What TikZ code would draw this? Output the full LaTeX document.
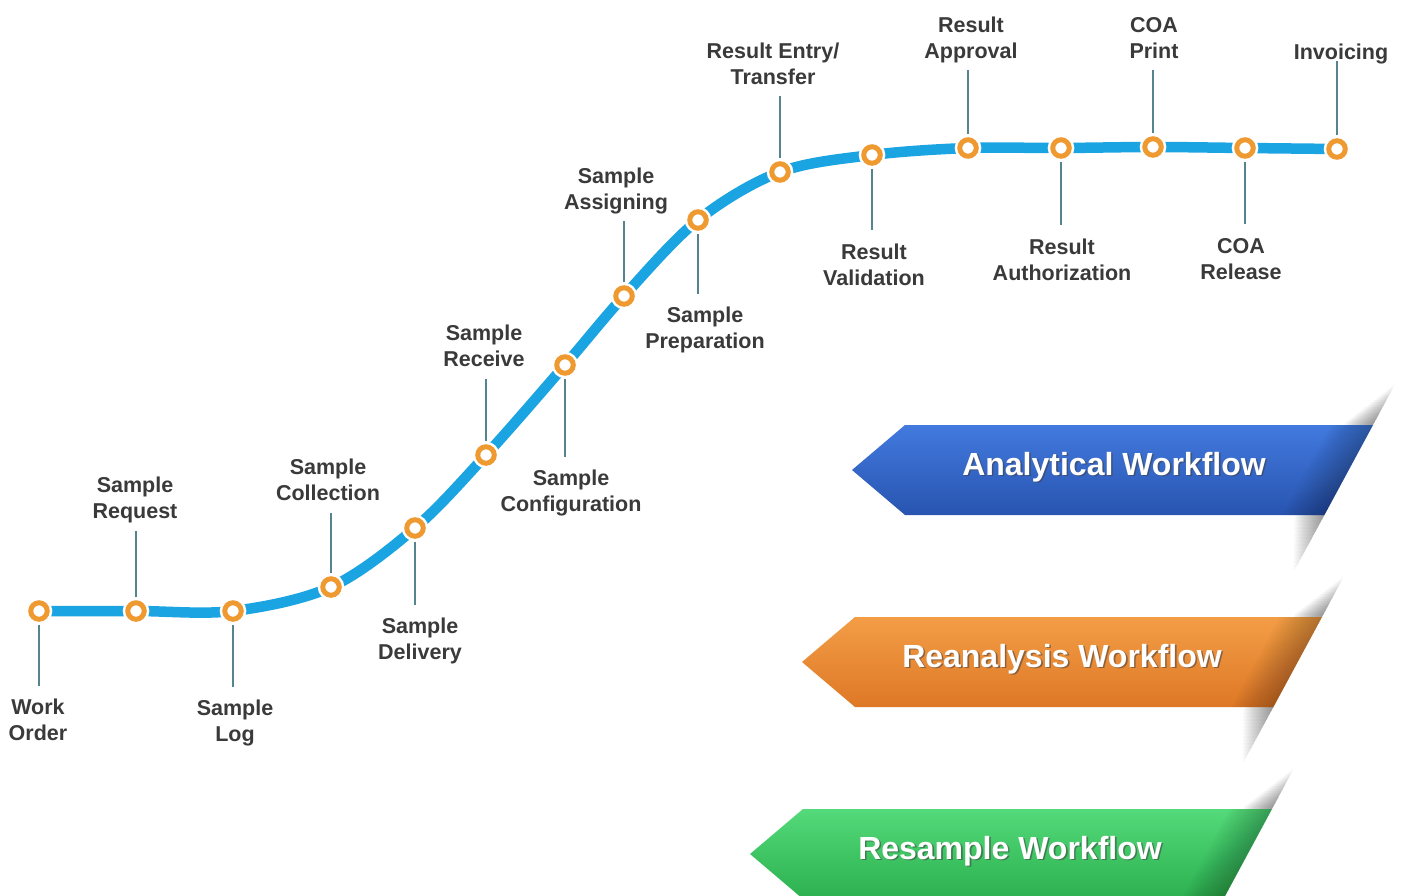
\documentclass[tikz,border=0pt]{standalone}
\usepackage{fontspec}
\setmainfont{Liberation Sans}
\usetikzlibrary{calc}
\definecolor{flowblue}{RGB}{27,164,226}
\definecolor{dotorange}{RGB}{238,154,48}
\definecolor{tickcol}{RGB}{84,132,142}
\definecolor{labcol}{RGB}{58,58,58}
\definecolor{blueT}{RGB}{66,122,222}
\definecolor{blueB}{RGB}{40,84,176}
\definecolor{orT}{RGB}{243,157,70}
\definecolor{orB}{RGB}{222,120,38}
\definecolor{grT}{RGB}{84,218,122}
\definecolor{grB}{RGB}{44,176,80}
\newcommand\twol[2]{\strut#1\\\strut#2}
% #1 top y, #2 top-right x, #3 tip x, #4 top colour, #5 bottom colour, #6 text, #7 text x, #8 name
\newcommand\wfbanner[8]{%
  \foreach \k in {1,...,16}{%
    \pgfmathsetmacro\ya{#1-42+2.4*\k}%
    \pgfmathsetmacro\xa{#2-0.54*(\ya-(#1))}%
    \fill[black,opacity=0.028] (\xa,\ya) -- (#2,#1) -- (#2-1.8*\k,#1) -- (\xa-1.8*\k,\ya) -- cycle;
    \pgfmathsetmacro\yb{#1+90+58-3.4*\k}%
    \pgfmathsetmacro\xb{#2-0.54*(\yb-(#1))}%
    \fill[black,opacity=0.028] (#2-48.6,#1+90) -- (\xb,\yb) -- (\xb-1.8*\k,\yb) -- (#2-48.6-1.8*\k,#1+90) -- cycle;
  }%
  \shade[top color=#4,bottom color=#5] (#3,#1+45) -- (#3+53,#1) -- (#2,#1) -- (#2-48.6,#1+90) -- (#3+53,#1+90) -- cycle;
  \foreach \k in {1,...,14}{%
    \fill[black,opacity=0.018] (#2,#1) -- (#2-48.6,#1+90) -- (#2-48.6-3*\k,#1+90) -- (#2-3*\k,#1) -- cycle;
  }%
  \node[bantext,text=black!75,opacity=0.55] (#8s) at (#7+1.6,#1+43.6) {#6};
  \node[bantext,text=white] (#8) at (#7,#1+42) {#6};
}
\begin{document}
\begin{tikzpicture}[x=1pt,y=-1pt,
  flow/.style={draw=flowblue,line width=10.5pt},
  dot/.style={circle,draw=dotorange,line width=5pt,fill=white,minimum size=16.5pt,inner sep=0pt,
    preaction={draw=white,line width=10pt}},
  tickup/.style={draw=tickcol,line width=1.8pt,shorten <=3pt,shorten >=4pt},
  tickdown/.style={draw=tickcol,line width=1.8pt,shorten <=3pt,shorten >=11pt},
  lab/.style={text=labcol,font=\fontsize{21.5}{26}\selectfont\bfseries,align=center,inner sep=0pt,outer sep=0pt},
  bantext/.style={font=\fontsize{32}{38}\selectfont\bfseries,inner sep=0pt}]
\useasboundingbox (0,0) rectangle (1406,896);
\fill[white] (0,0) rectangle (1406,896);

% banners
\wfbanner{425}{1373}{852}{blueT}{blueB}{Analytical Workflow}{1114}{b1}
\wfbanner{617}{1322}{802}{orT}{orB}{Reanalysis Workflow}{1062}{b2}
\wfbanner{809}{1272}{750}{grT}{grB}{Resample Workflow}{1010}{b3}

% flow points
\coordinate (p1) at (39,611);
\coordinate (p2) at (136,611);
\coordinate (p3) at (233,611);
\coordinate (p4) at (331,587);
\coordinate (p5) at (415,528);
\coordinate (p6) at (486,455);
\coordinate (p7) at (565,365);
\coordinate (p8) at (624,296);
\coordinate (p9) at (698,220);
\coordinate (p10) at (780,172);
\coordinate (p11) at (872,155);
\coordinate (p12) at (968,148);
\coordinate (p13) at (1061,148);
\coordinate (p14) at (1153,147);
\coordinate (p15) at (1245,148);
\coordinate (p16) at (1337,149);

\draw[flow] plot[smooth,tension=0.55] coordinates {(p1) (p2) (p3) (p4) (p5) (p6) (p7) (p8) (p9) (p10) (p11) (p12) (p13) (p14) (p15) (p16)};

\foreach \i in {1,...,16} \node[dot] (c\i) at (p\i) {};

% labels
\node[lab] (l1) at (38,722.5) {\twol{Work}{Order}};
\node[lab] (l2) at (135,500.5) {\twol{Sample}{Request}};
\node[lab] (l3) at (235,723.5) {\twol{Sample}{Log}};
\node[lab] (l4) at (328,482.5) {\twol{Sample}{Collection}};
\node[lab] (l5) at (420,641.5) {\twol{Sample}{Delivery}};
\node[lab] (l6) at (484,348.5) {\twol{Sample}{Receive}};
\node[lab] (l7) at (571,493.5) {\twol{Sample}{Configuration}};
\node[lab] (l8) at (616,191.5) {\twol{Sample}{Assigning}};
\node[lab] (l9) at (705,330.5) {\twol{Sample}{Preparation}};
\node[lab] (l10) at (773,66.5) {\twol{Result Entry/}{Transfer}};
\node[lab] (l11) at (874,267) {\twol{Result}{Validation}};
\node[lab] (l12) at (971,40.5) {\twol{Result}{Approval}};
\node[lab] (l13) at (1062,262.5) {\twol{Result}{Authorization}};
\node[lab] (l14) at (1154,40.5) {\twol{COA}{Print}};
\node[lab] (l15) at (1241,261.5) {\twol{COA}{Release}};
\node[lab] (l16) at (1341,54.5) {\strut Invoicing};

% ticks
\draw[tickdown] (c1.south) -- (c1.south |- l1.north);
\draw[tickup] (c2.north) -- (c2.north |- l2.south);
\draw[tickdown] (c3.south) -- (c3.south |- l3.north);
\draw[tickup] (c4.north) -- (c4.north |- l4.south);
\draw[tickdown] (c5.south) -- (c5.south |- l5.north);
\draw[tickup] (c6.north) -- (c6.north |- l6.south);
\draw[tickdown] (c7.south) -- (c7.south |- l7.north);
\draw[tickup] (c8.north) -- (c8.north |- l8.south);
\draw[tickdown] (c9.south) -- (c9.south |- l9.north);
\draw[tickup] (c10.north) -- (c10.north |- l10.south);
\draw[tickdown] (c11.south) -- (c11.south |- l11.north);
\draw[tickup] (c12.north) -- (c12.north |- l12.south);
\draw[tickdown] (c13.south) -- (c13.south |- l13.north);
\draw[tickup] (c14.north) -- (c14.north |- l14.south);
\draw[tickdown] (c15.south) -- (c15.south |- l15.north);
\draw[tickup,shorten >=-6pt] (c16.north) -- (c16.north |- l16.south);
\end{tikzpicture}
\end{document}
